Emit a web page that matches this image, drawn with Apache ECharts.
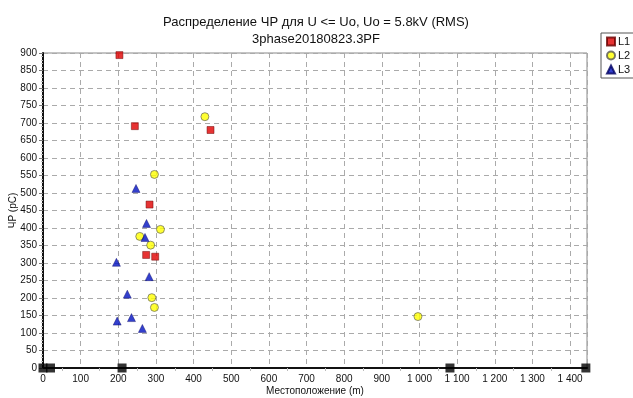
<!DOCTYPE html>
<html>
<head>
<meta charset="utf-8">
<script src="https://cdn.jsdelivr.net/npm/echarts@6/dist/echarts.min.js"></script>
<style>
  html, body { margin: 0; padding: 0; background: #fff; }
  #chart { width: 633px; height: 398px; }
</style>
</head>
<body>
<div id="chart"></div>
<script>
// L1 - red squares [position m, pC]
const l1Points = [
  [203, 894], [244, 691], [445, 680], [283, 467], [274, 323], [298, 318]
];
// L2 - yellow circles
const l2Points = [
  [430, 718], [296, 553], [312, 396], [257, 376], [286, 351],
  [289, 201], [296, 173], [996, 147]
];
// L3 - blue triangles
const l3Points = [
  [247, 513], [275, 413], [271, 373], [195, 302], [282, 261],
  [224, 211], [235, 144], [197, 134], [264, 113]
];
// joints / cable ends on the x axis
const markers = [[0, 0], [20, 0], [210, 0], [1081, 0], [1442, 0]];

const titleText = "Распределение ЧР для U <= Uo, Uo = 5.8kV (RMS)";
const subText = "3phase20180823.3PF";

const chart = echarts.init(document.getElementById("chart"));

const fmtNum = (v) => String(v).replace(/\B(?=(\d{3})+(?!\d))/g, " ");
const font = "Liberation Sans, Arial, sans-serif";

chart.setOption({
  animation: false,
  textStyle: { fontFamily: font },
  title: {
    text: titleText,
    subtext: subText,
    left: 311,
    textAlign: "center",
    top: 11,
    itemGap: 4,
    textStyle: { fontSize: 13, fontWeight: "normal", color: "#111", fontFamily: font },
    subtextStyle: { fontSize: 13, color: "#111", fontFamily: font },
  },
  legend: {
    orient: "vertical",
    left: 601,
    top: 33,
    data: ["L1", "L2", "L3"],
    borderColor: "#555",
    borderWidth: 1,
    padding: [3, 6, 3, 5],
    itemWidth: 8,
    itemHeight: 8,
    itemGap: 3,
    textStyle: { fontSize: 11, color: "#111", padding: [0, 0, 0, -2] },
  },
  grid: {
    left: 43,
    right: 46,
    top: 53,
    bottom: 30,
    outerBoundsMode: "none",
    containLabel: false,
    show: true,
    borderColor: "#888",
    borderWidth: 1,
  },
  xAxis: {
    type: "value",
    min: 0,
    max: 1445,
    interval: 100,
    name: "Местоположение (m)",
    nameLocation: "middle",
    nameGap: 18,
    nameMoveOverlap: false,
    nameTextStyle: { fontSize: 10, color: "#111" },
    axisLine: { lineStyle: { color: "#111", width: 2 } },
    axisTick: { show: false },
    minorTick: { show: true, splitNumber: 2, length: 3, lineStyle: { color: "#bbb" } },
    axisLabel: {
      fontSize: 10,
      color: "#111",
      margin: 6,
      formatter: (v) => (v % 100 === 0 ? fmtNum(v) : ""),
    },
    splitLine: { lineStyle: { color: "#aaa", type: [5, 4] } },
  },
  yAxis: {
    type: "value",
    min: 0,
    max: 900,
    interval: 50,
    name: "ЧР (pC)",
    nameLocation: "middle",
    nameGap: 25,
    nameMoveOverlap: false,
    nameTextStyle: { fontSize: 10, color: "#111" },
    axisLine: { show: true, lineStyle: { color: "#111", width: 2 } },
    axisTick: { show: true, length: 4, lineStyle: { color: "#777" } },
    minorTick: { show: true, splitNumber: 5, length: 2, lineStyle: { color: "#bbb" } },
    axisLabel: { fontSize: 10, color: "#111", margin: 6 },
    splitLine: { lineStyle: { color: "#aaa", type: [5, 4] } },
  },
  series: [
    {
      name: "markers",
      type: "scatter",
      data: markers,
      symbol: "rect",
      symbolSize: 9,
      itemStyle: { color: "#000" },
      silent: true,
      z: 5,
    },
    {
      name: "L1",
      type: "scatter",
      data: l1Points,
      symbol: "rect",
      symbolSize: 7,
      itemStyle: { color: "#e00000", borderColor: "#600", borderWidth: 0.6 },
    },
    {
      name: "L2",
      type: "scatter",
      data: l2Points,
      symbol: "circle",
      symbolSize: 8,
      itemStyle: { color: "#ffff00", borderColor: "#555", borderWidth: 0.8 },
    },
    {
      name: "L3",
      type: "scatter",
      data: l3Points,
      symbol: "triangle",
      symbolSize: 8,
      itemStyle: { color: "#0010c0", borderColor: "#000060", borderWidth: 0.5 },
    },
  ],
});
</script>
</body>
</html>
